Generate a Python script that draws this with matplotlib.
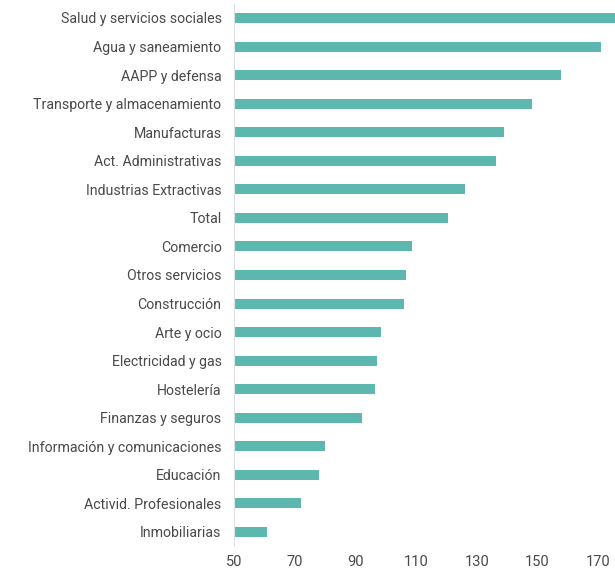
import matplotlib
matplotlib.use("Agg")
import matplotlib.pyplot as plt

categories = [
    "Salud y servicios sociales",
    "Agua y saneamiento",
    "AAPP y defensa",
    "Transporte y almacenamiento",
    "Manufacturas",
    "Act. Administrativas",
    "Industrias Extractivas",
    "Total",
    "Comercio",
    "Otros servicios",
    "Construcción",
    "Arte y ocio",
    "Electricidad y gas",
    "Hostelería",
    "Finanzas y seguros",
    "Información y comunicaciones",
    "Educación",
    "Activid. Profesionales",
    "Inmobiliarias",
]
values = [178, 170.9, 157.6, 148, 139, 136.4, 126.2, 120.5, 108.6, 106.6, 106,
          98.3, 97, 96.4, 92, 80.1, 78.1, 72.1, 60.9]
xticks = [50, 70, 90, 110, 130, 150, 170]

plt.rcParams["font.family"] = ["Roboto", "DejaVu Sans"]

fig = plt.figure(figsize=(6.15, 5.72), dpi=100)
ax = fig.add_axes([0.3805, 0.045, 0.6195, 0.9485])

y = list(range(len(categories)))
ax.barh(y, [v - 50 for v in values], left=50, height=0.35, color="#5cb8ae")
ax.set_ylim(len(categories) - 0.5, -0.5)
ax.set_xlim(50, 175.5)

ax.set_yticks(y)
ax.set_yticklabels(categories, fontsize=10.2, color="#4a4a4a")
ax.set_xticks(xticks)
ax.set_xticklabels([str(t) for t in xticks], fontsize=10.5, color="#4a4a4a")
ax.tick_params(length=0)
ax.tick_params(axis="y", pad=9)
ax.tick_params(axis="x", pad=6)

for s in ["top", "right", "bottom"]:
    ax.spines[s].set_visible(False)
ax.spines["left"].set_color("#e0e0e0")
ax.spines["left"].set_linewidth(0.8)

fig.savefig("out.png", dpi=100)
